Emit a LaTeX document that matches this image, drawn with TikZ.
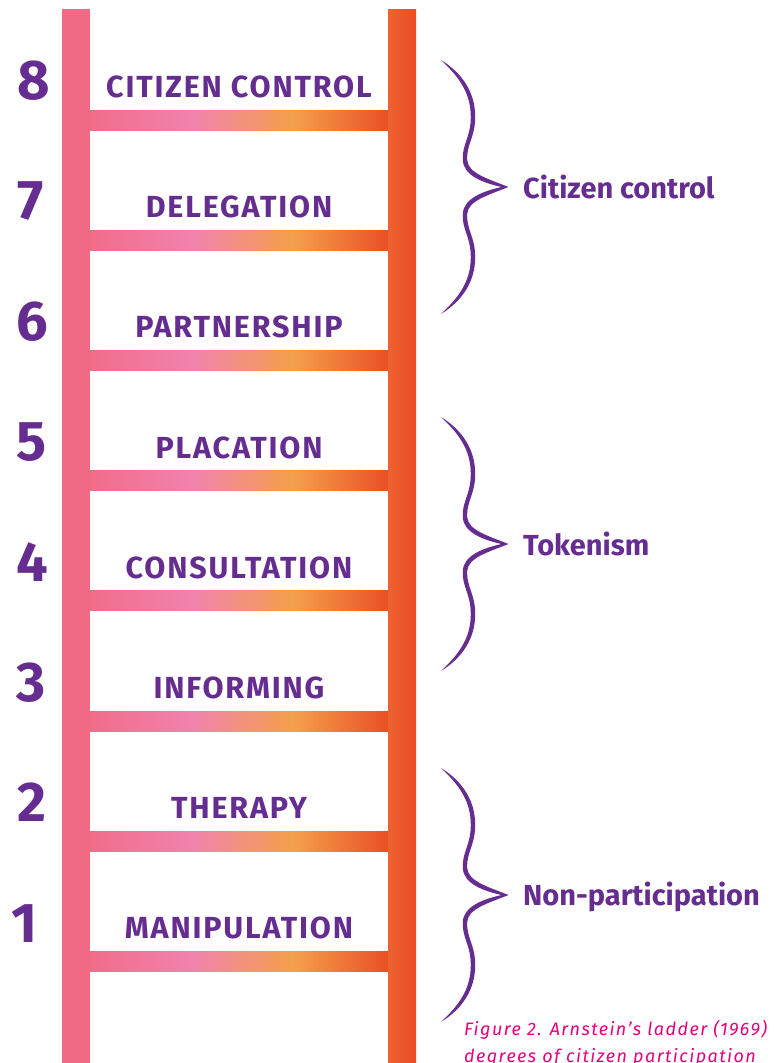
\documentclass[tikz,border=0pt]{standalone}
\usepackage{fontspec}
\setmainfont{Fira Sans}
\newfontfamily\rungfont{Fira Sans}[LetterSpace=6]
\newfontfamily\captfont{Fira Sans}[LetterSpace=8]
\definecolor{purp}{RGB}{102,45,145}
\definecolor{railL}{RGB}{240,106,133}
\definecolor{rrA}{RGB}{238,98,48}
\definecolor{rrB}{RGB}{232,76,36}
\definecolor{gA}{RGB}{240,108,138}
\definecolor{gB}{RGB}{240,132,172}
\definecolor{gC}{RGB}{244,160,75}
\definecolor{gD}{RGB}{233,80,38}
\definecolor{capt}{RGB}{230,0,126}
\pgfdeclarehorizontalshading{rungshade}{100bp}{color(0bp)=(gA); color(25bp)=(gA); color(42.5bp)=(gB); color(59bp)=(gC); color(75bp)=(gD); color(100bp)=(gD)}
\pgfdeclarehorizontalshading{railshade}{100bp}{color(0bp)=(rrA); color(25bp)=(rrA); color(75bp)=(rrB); color(100bp)=(rrB)}
\tikzset{
  runglabel/.style={anchor=base, inner sep=0, text=purp, font=\rungfont\bfseries\fontsize{30.5}{36}\selectfont},
  numlabel/.style={anchor=base, inner sep=0, text=purp, font=\bfseries\fontsize{56}{60}\selectfont},
  grouplabel/.style={anchor=base west, inner sep=0, text=purp, font=\bfseries\fontsize{29}{34}\selectfont},
  caplabel/.style={anchor=base west, inner sep=0, text=capt, font=\captfont\itshape\fontsize{18}{22}\selectfont},
  bracefill/.style={fill=purp}
}
\newcommand{\bracepath}{(-64,-127) .. controls (-43,-114) and (-29.8,-95) .. (-29.8,-70)
 .. controls (-29.8,-50) and (-38.8,-42) .. (-37.8,-27)
 .. controls (-37,-14) and (-18,-8.5) .. (3.5,0)
 .. controls (-18,8.5) and (-37,14) .. (-37.8,27)
 .. controls (-38.8,42) and (-29.8,50) .. (-29.8,70)
 .. controls (-29.8,95) and (-43,114) .. (-64,127)
 .. controls (-47,111) and (-34.2,95) .. (-34.2,70)
 .. controls (-34.2,50) and (-43.2,42) .. (-42.2,27)
 .. controls (-41.5,11) and (-21,4) .. (-3.5,0)
 .. controls (-21,-4) and (-41.5,-11) .. (-42.2,-27)
 .. controls (-43.2,-42) and (-34.2,-50) .. (-34.2,-70)
 .. controls (-34.2,-95) and (-47,-111) .. cycle}
\begin{document}
\begin{tikzpicture}[x=1pt,y=-1pt]
\useasboundingbox (0,0) rectangle (774,1063);
\fill[white] (0,0) rectangle (774,1063);
% rails
\fill[railL] (62,9) rectangle (90,1063);
\shade[shading=railshade] (388,9) rectangle (416,1063);
% rungs
\foreach \k in {0,...,7}{
  \shade[shading=rungshade] (90,{110+120.2*\k}) rectangle (388,{130+120.2*\k});
}
% rung labels
\node[runglabel] (r8) at (239,97.5) {CITIZEN CONTROL};
\node[runglabel] (r7) at (239,217.7) {DELEGATION};
\node[runglabel] (r6) at (239,337.9) {PARTNERSHIP};
\node[runglabel] (r5) at (239,458.1) {PLACATION};
\node[runglabel] (r4) at (239,578.3) {CONSULTATION};
\node[runglabel] (r3) at (239,698.5) {INFORMING};
\node[runglabel] (r2) at (239,818.7) {THERAPY};
\node[runglabel] (r1) at (239,938.9) {MANIPULATION};
% numbers
\node[numlabel] (n8) at (34,99.5) {8};
\node[numlabel] (n7) at (31,219.9) {7};
\node[numlabel] (n6) at (32,340.3) {6};
\node[numlabel] (n5) at (32,460.7) {5};
\node[numlabel] (n4) at (32,581.1) {4};
\node[numlabel] (n3) at (31,701.5) {3};
\node[numlabel] (n2) at (32,821.9) {2};
\node[numlabel] (n1) at (24,942.3) {1};
% braces
\fill[bracefill, shift={(505,187)}] \bracepath;
\fill[bracefill, shift={(505,544)}] \bracepath;
\fill[bracefill, shift={(505,895)}] \bracepath;
% group labels
\node[grouplabel] (g1) at (523,198.5) {Citizen control};
\node[grouplabel] (g2) at (523,555) {Tokenism};
\node[grouplabel] (g3) at (523,905.5) {Non-participation};
% caption
\node[caplabel] (c1) at (464,1035.5) {Figure 2. Arnstein’s ladder (1969)};
\node[caplabel] (c2) at (464,1062) {degrees of citizen participation};
\end{tikzpicture}
\end{document}
